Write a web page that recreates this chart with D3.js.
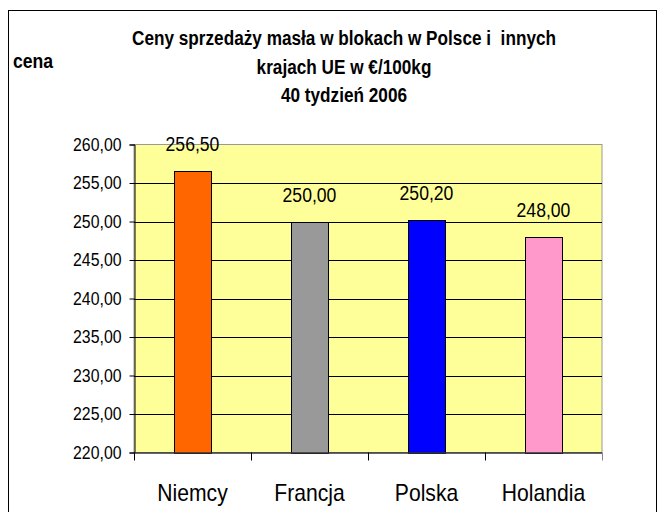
<!DOCTYPE html>
<html lang="pl">
<head>
<meta charset="utf-8">
<title>Ceny sprzedaży masła</title>
<script src="https://cdn.jsdelivr.net/npm/d3@7"></script>
<style>
body { margin: 0; background: #fff; }
text { font-family: Arial, "Liberation Sans", sans-serif; white-space: pre; }
</style>
</head>
<body>
<script>
var countries = ["Niemcy", "Francja", "Polska", "Holandia"];
var prices = [256.5, 250.0, 250.2, 248.0];
var barColors = ["#ff6600", "#999999", "#0000ff", "#ff99cc"];
var yTicks = [220, 225, 230, 235, 240, 245, 250, 255, 260];
var titleLines = ["Ceny sprzedaży masła w blokach w Polsce i  innych", "krajach UE w €/100kg", "40 tydzień 2006"];

var width = 664, height = 512;
var plot = {left: 134, top: 144.5, right: 602, bottom: 452.5};
var squeeze = 0.88; // the original text is a bit narrow

var svg = d3.select("body").append("svg")
    .attr("width", width)
    .attr("height", height);

// outer chart frame
svg.append("rect")
    .attr("x", 8.5).attr("y", 10.5)
    .attr("width", 648).attr("height", 520)
    .attr("fill", "#fff").attr("stroke", "#000");

var fmt = function(v) { return d3.format(".2f")(v).replace(".", ","); };

// make text narrower, keeping its anchor
function condense(sel, k) {
    sel.each(function() {
        var w = this.getComputedTextLength();
        d3.select(this).attr("textLength", w * k).attr("lengthAdjust", "spacingAndGlyphs");
    });
}

var x = d3.scaleBand()
    .domain(countries)
    .range([plot.left, plot.right]);

var y = d3.scaleLinear()
    .domain([220, 260])
    .range([plot.bottom, plot.top]);

svg.append("rect")
    .attr("x", plot.left).attr("y", plot.top)
    .attr("width", plot.right - plot.left)
    .attr("height", plot.bottom - plot.top)
    .attr("fill", "#ffff99")
    .attr("stroke", "#999999");

// gridlines
svg.selectAll(".grid")
    .data(yTicks.filter(function(d) { return d > 220 && d < 260; }))
    .enter().append("line")
    .attr("x1", plot.left).attr("x2", plot.right)
    .attr("y1", function(d) { return Math.round(y(d)) + 0.5; })
    .attr("y2", function(d) { return Math.round(y(d)) + 0.5; })
    .attr("stroke", "#000");

// bars
svg.selectAll(".bar")
    .data(prices)
    .enter().append("rect")
    .attr("x", function(d, i) { return Math.round(x(countries[i]) + x.bandwidth() * 0.34) + 0.5; })
    .attr("width", Math.round(x.bandwidth() * 0.32))
    .attr("y", function(d) { return Math.round(y(d)) + 0.5; })
    .attr("height", function(d) { return Math.round(y(220)) - Math.round(y(d)); })
    .attr("fill", function(d, i) { return barColors[i]; })
    .attr("stroke", "#000");

// value labels
svg.selectAll(".val")
    .data(prices)
    .enter().append("text")
    .attr("x", function(d, i) { return x(countries[i]) + x.bandwidth() / 2; })
    .attr("y", function(d) { return y(d) - 20; })
    .attr("text-anchor", "middle")
    .attr("font-size", 20)
    .text(fmt)
    .call(condense, squeeze);

// y axis
var yAxis = d3.axisLeft(y)
    .tickValues(yTicks)
    .tickSize(5)
    .tickPadding(8)
    .tickFormat(fmt);

var gy = svg.append("g")
    .attr("transform", "translate(" + (plot.left + 0.5) + ",0)")
    .call(yAxis);
gy.selectAll("text").attr("font-size", 18).attr("font-family", "Arial, 'Liberation Sans', sans-serif").attr("fill", "#000")
    .call(condense, squeeze);
gy.selectAll("line").attr("stroke", "#000");
gy.select(".domain").attr("stroke", "#000");

// x axis
var xAxis = d3.axisBottom(x).tickSize(0).tickPadding(31);
var gx = svg.append("g")
    .attr("transform", "translate(0," + (plot.bottom + 0.5) + ")")
    .call(xAxis);
gx.select(".domain").attr("stroke", "#333").attr("stroke-width", 1.5)
    .attr("d", "M" + plot.left + ",0H" + plot.right);
gx.selectAll("text").attr("font-size", 24).attr("font-family", "Arial, 'Liberation Sans', sans-serif").attr("fill", "#000")
    .call(condense, squeeze);

// category separator ticks
svg.selectAll(".xtick")
    .data(countries.concat(["end"]))
    .enter().append("line")
    .attr("x1", function(d, i) { return Math.round(plot.left + i * x.bandwidth()) + 0.5; })
    .attr("x2", function(d, i) { return Math.round(plot.left + i * x.bandwidth()) + 0.5; })
    .attr("y1", plot.bottom).attr("y2", plot.bottom + 8)
    .attr("stroke", function(d, i) { return i === countries.length ? "#888" : "#000"; });

// title
var title = svg.selectAll(".title")
    .data(titleLines)
    .enter().append("text")
    .attr("x", 344)
    .attr("y", function(d, i) { return 45 + i * 28.5; })
    .attr("text-anchor", "middle")
    .attr("font-size", 19.5)
    .attr("font-weight", "bold")
    .text(function(d) { return d; });
var tk = 424 / title.node().getComputedTextLength();
title.call(condense, tk);

svg.append("text")
    .attr("x", 13).attr("y", 68)
    .attr("font-size", 20)
    .attr("font-weight", "bold")
    .text("cena")
    .call(condense, squeeze);
</script>
</body>
</html>
